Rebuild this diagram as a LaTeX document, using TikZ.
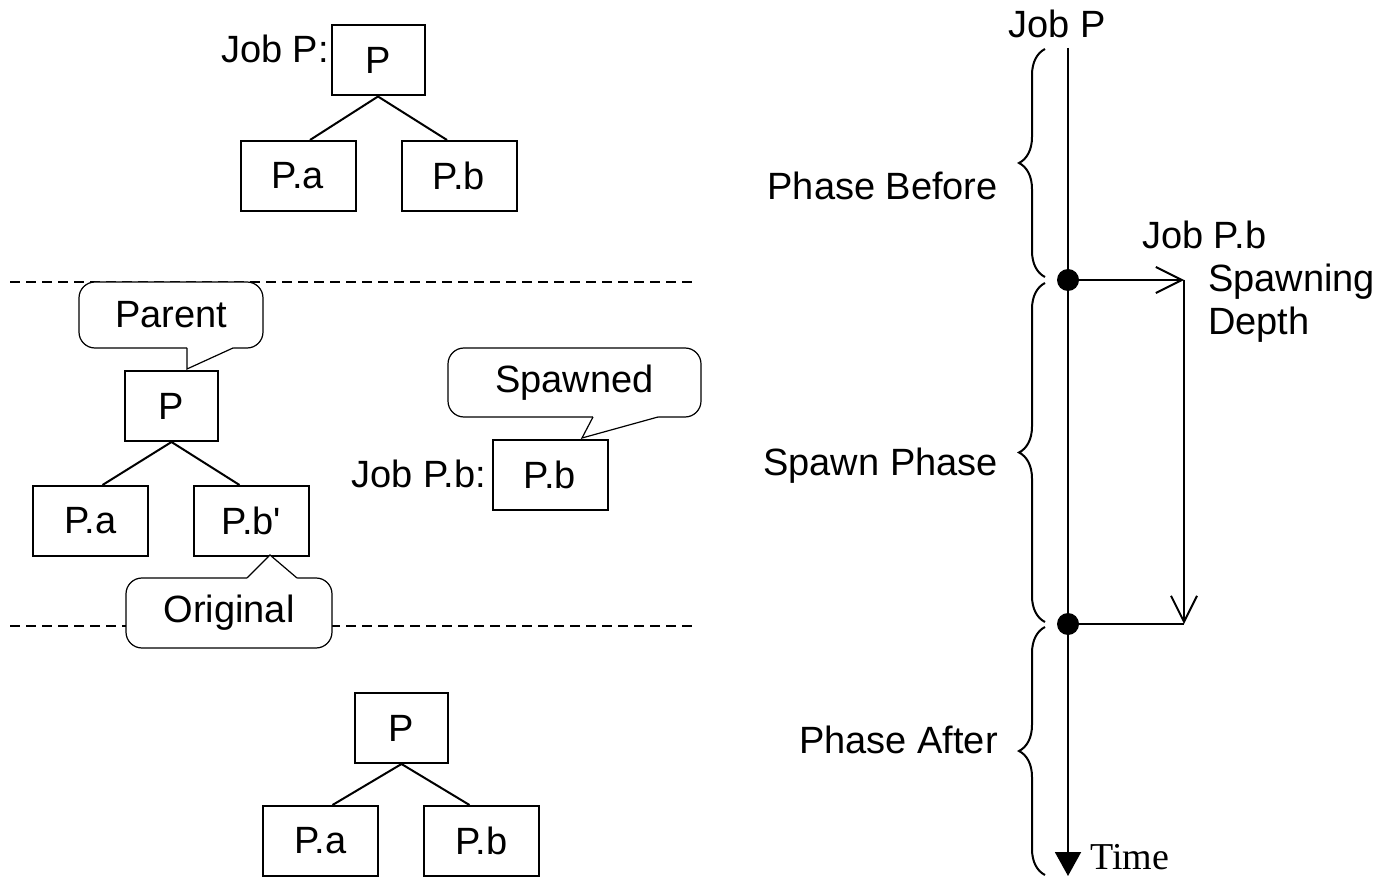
\documentclass[tikz,border=0pt]{standalone}
\usepackage{fontspec}
\setmainfont{Liberation Sans}[Ligatures=TeXOff]
\newfontfamily\timefont{Liberation Serif}
\usetikzlibrary{arrows.meta,decorations.pathreplacing,calc}

\tikzset{
  lbl/.style={font=\fontsize{38}{44}\selectfont, inner sep=0pt},
  parentbox/.style={lbl, draw, line width=2pt, minimum width=93pt, minimum height=70pt},
  childbox/.style={lbl, draw, line width=2pt, minimum width=115pt, minimum height=70pt},
  treeedge/.style={line width=2pt},
  sep/.style={line width=1.6pt, dash pattern=on 10pt off 6pt},
  bubble/.style={lbl, draw, fill=white, line width=1.2pt, rounded corners=16pt},
  tail/.style={line width=1.2pt},
  axis/.style={line width=2pt},
  dot/.style={circle, fill=black, inner sep=0pt, minimum size=22pt},
  spawn/.style={line width=2pt, -{Straight Barb[length=26pt,width=26pt,line width=2pt]}},
  phase/.style={line width=2pt, decorate, decoration={brace, amplitude=26pt}}
}

\begin{document}
\begin{tikzpicture}[x=1pt,y=-1pt]
\useasboundingbox (0,0) rectangle (1377,877);

% ---- phase separators ----
\coordinate (sepAl) at (10,282);  \coordinate (sepAr) at (697,282);
\coordinate (sepBl) at (10,626);  \coordinate (sepBr) at (697,626);
\draw[sep] (sepAl) -- (sepAr);
\draw[sep] (sepBl) -- (sepBr);

% ---- tree before spawning ----
\node[parentbox] (topP)  at (378,60.5) {P};
\node[childbox]  (topPa) at (298,176)  {P.a};
\node[childbox]  (topPb) at (459,176)  {P.b};
\node[lbl, anchor=base east] (jobPlbl) at (329,63) {Job P:};
\draw[treeedge] (topP.south) -- ([xshift=12pt]topPa.north);
\draw[treeedge] (topP.south) -- ([xshift=-12pt]topPb.north);

% ---- tree during spawning ----
\node[parentbox] (midP)  at (171.5,406) {P};
\node[childbox]  (midPa) at (90.5,521)  {P.a};
\node[childbox]  (midPb) at (251.5,521) {P.b'};
\draw[treeedge] (midP.south) -- ([xshift=12pt]midPa.north);
\draw[treeedge] (midP.south) -- ([xshift=-12pt]midPb.north);

\node[childbox] (spawnPb) at (550,474.5) {P.b};
\node[lbl, anchor=base east] (jobPblbl) at (486,487) {Job P.b:};

% callout: Parent
\node[bubble, minimum width=184pt, minimum height=66pt] (noteParent) at (171,315) {Parent};
\fill[white] (187,346) -- (187,369) -- (233,348) -- (233,346) -- cycle;
\draw[tail] (187,348) -- (187,369) -- (233,348);

% callout: Spawned
\node[bubble, minimum width=253pt, minimum height=69pt] (noteSpawned) at (574.5,382.5) {Spawned};
\fill[white] (593,415) -- (593,417) -- (582,438) -- (658,417) -- (658,415) -- cycle;
\draw[tail] (593,417) -- (582,438) -- (658,417);

% callout: Original
\node[bubble, minimum width=206pt, minimum height=70pt] (noteOriginal) at (229,613) {Original};
\fill[white] (247,580) -- (247,578) -- (270,555) -- (297,578) -- (297,580) -- cycle;
\draw[tail] (247,578) -- (270,555) -- (297,578);

% ---- tree after spawning ----
\node[parentbox] (botP)  at (401.5,728) {P};
\node[childbox]  (botPa) at (320.5,841) {P.a};
\node[childbox]  (botPb) at (481.5,841) {P.b};
\draw[treeedge] (botP.south) -- ([xshift=12pt]botPa.north);
\draw[treeedge] (botP.south) -- ([xshift=-12pt]botPb.north);

% ---- time line of job P ----
\node[lbl, anchor=base] (jobPtop) at (1057,38) {Job P};
\coordinate (tTop) at (1068,48);
\coordinate (tEnd) at (1068,876);
\draw[axis, -{Triangle[length=24pt,width=26pt]}] (tTop) -- (tEnd);
\node[lbl, font=\timefont\fontsize{38}{44}\selectfont, anchor=base west] (timelbl) at (1090,869) {Time};

\node[dot] (spawnStart) at (1068,280) {};
\node[dot] (spawnEnd)   at (1068,624) {};
\coordinate (cornerA) at (1184,280);
\coordinate (cornerB) at (1184,624);
\draw[spawn] (spawnStart) -- (cornerA);
\draw[spawn] (cornerA) -- (cornerB);
\draw[axis] (spawnEnd) -- (cornerB);

\node[lbl, anchor=base west] (jobPbR)  at (1142,249) {Job P.b};
\node[lbl, anchor=base west] (depthA)  at (1208,292) {Spawning};
\node[lbl, anchor=base west] (depthB)  at (1208,335) {Depth};

% ---- phase braces ----
\draw[phase] (1045,277) -- (1045,49);
\draw[phase] (1045,622) -- (1045,283);
\draw[phase] (1045,875) -- (1045,627);
\node[lbl, anchor=base east] (phBefore) at (998,200) {Phase Before};
\node[lbl, anchor=base east] (phSpawn)  at (998,475) {Spawn Phase};
\node[lbl, anchor=base east] (phAfter)  at (998,753) {Phase After};
\end{tikzpicture}
\end{document}
